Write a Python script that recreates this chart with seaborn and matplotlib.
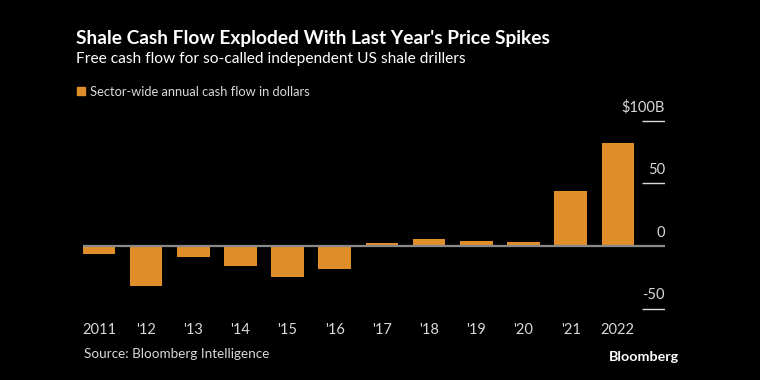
import matplotlib
matplotlib.use("Agg")
import matplotlib.pyplot as plt
import seaborn as sns

years = ["2011", "'12", "'13", "'14", "'15", "'16", "'17", "'18", "'19", "'20", "'21", "2022"]
cash_flow = [-6, -32, -8.5, -16, -25, -18.5, 2.7, 5.6, 3.6, 2.8, 44, 82]
y_ticks = [-50, 0, 50, 100]
y_labels = ["-50", "0", "50", "$100B"]

bar_color = "#E08E29"
text_color = "#D9D9D9"

sns.set_style("dark")
plt.rcParams["font.family"] = ["Lato", "DejaVu Sans"]

fig = plt.figure(figsize=(7.6, 3.8), dpi=100, facecolor="black")
ax = fig.add_axes([0.109, 0.1713, 0.766, 0.5276])
ax.set_facecolor("black")

sns.barplot(x=years, y=cash_flow, color=bar_color, width=0.69, saturation=1,
            linewidth=0, ax=ax)

ax.set_xlim(-0.34, 12.0)
ax.set_ylim(-55, 105)

# zero baseline and short gridline stubs at the right
ax.axhline(0, color="#8A8A8A", lw=1.6, zorder=3)
for t, lab in zip(y_ticks, y_labels):
    if t != 0:
        ax.hlines(t, 11.52, 12.0, color=text_color, lw=1)
    ax.text(12.0, t + 5, lab, ha="right", va="bottom", color=text_color, fontsize=10.5)

for s in ax.spines.values():
    s.set_visible(False)
ax.grid(False)
ax.set_yticks([])
ax.set_xlabel("")
ax.set_ylabel("")
ax.tick_params(axis="x", colors="#BBBBBB", labelcolor=text_color, labelsize=10.5,
               direction="in", length=4, width=1, pad=6)

fig.text(0.1, 0.883, "Shale Cash Flow Exploded With Last Year's Price Spikes",
         color="white", fontsize=13.8, fontweight="bold", ha="left", va="baseline")
fig.text(0.1, 0.833, "Free cash flow for so-called independent US shale drillers",
         color="white", fontsize=11.2, ha="left", va="baseline")
fig.patches.append(plt.Rectangle((0.1013, 0.749), 0.0105, 0.021, transform=fig.transFigure,
                                 color=bar_color, figure=fig))
fig.text(0.118, 0.759, "Sector-wide annual cash flow in dollars",
         color=text_color, fontsize=9.3, ha="left", va="center")
fig.text(0.11, 0.068, "Source: Bloomberg Intelligence",
         color=text_color, fontsize=9.7, ha="left", va="center")
fig.text(0.894, 0.06, "Bloomberg", color="white", fontsize=10.3, fontweight="bold",
         ha="right", va="center")

fig.savefig("out.png", dpi=100, facecolor="black")
